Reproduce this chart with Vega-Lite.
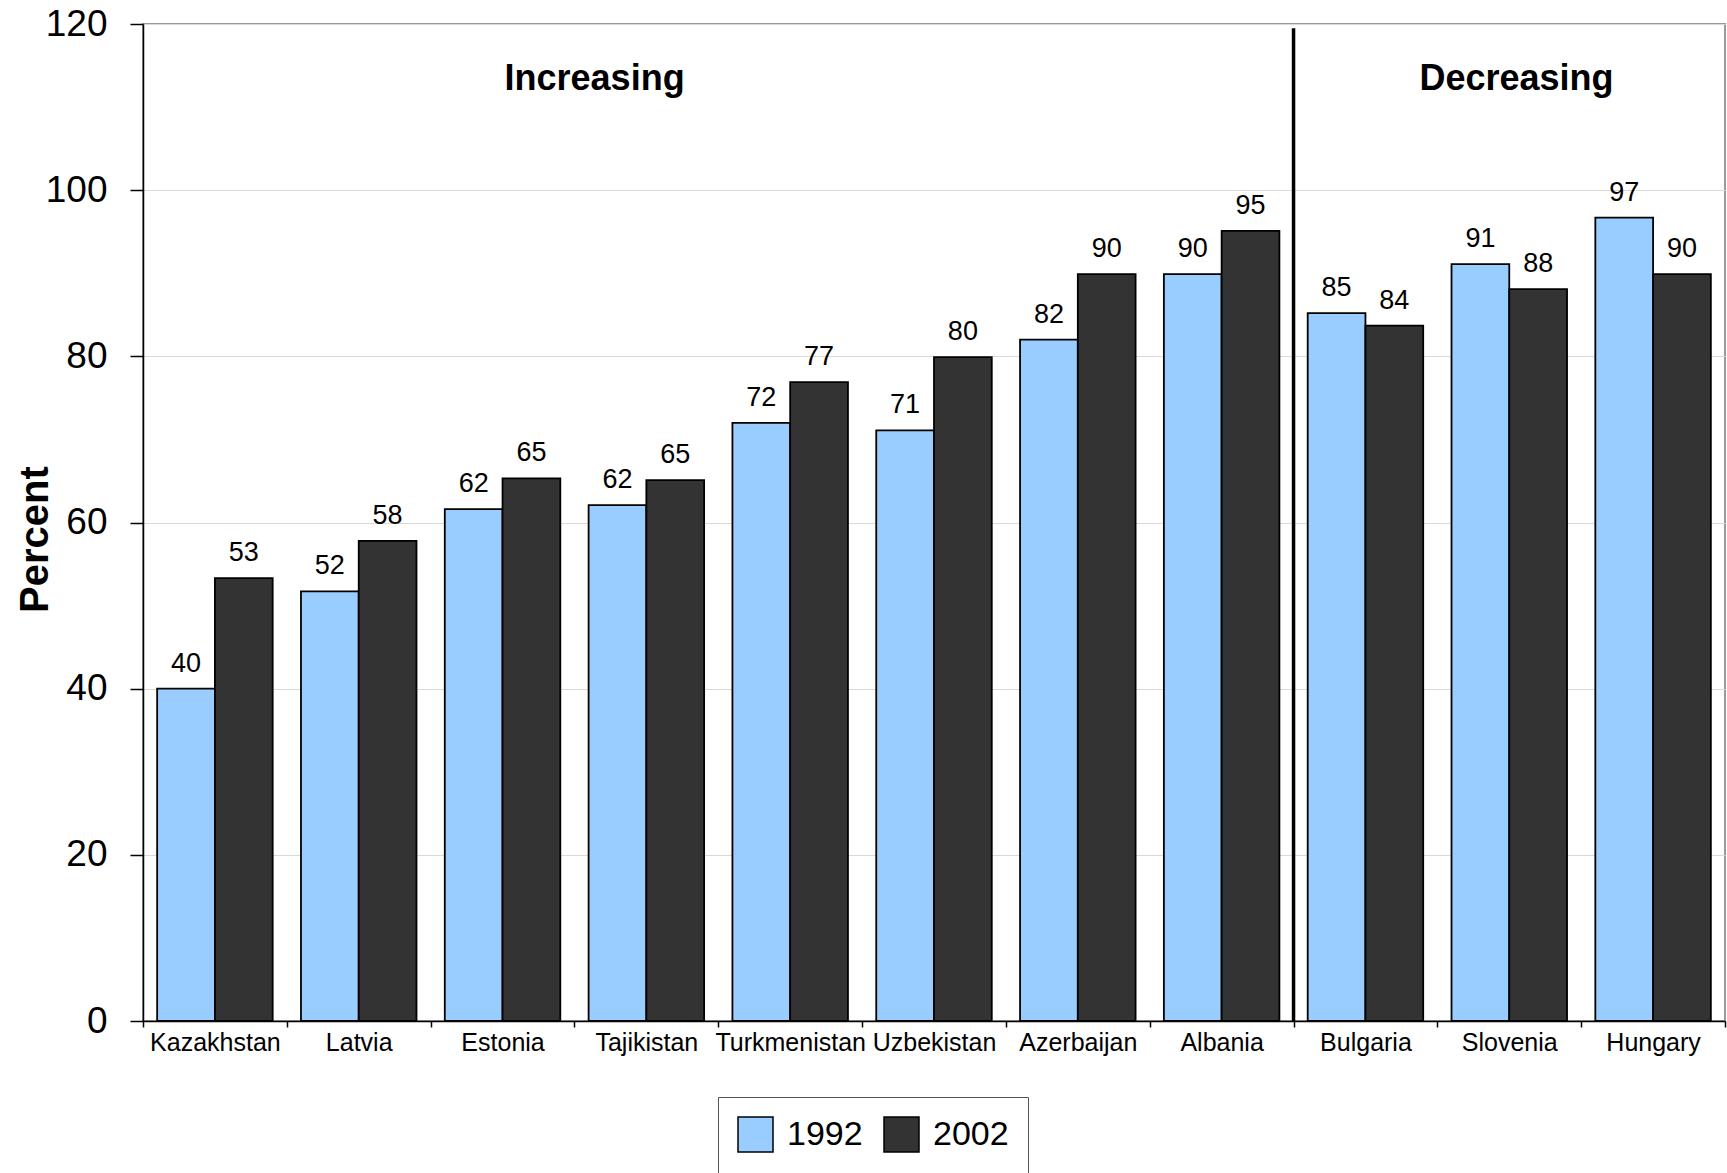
{
  "$schema": "https://vega.github.io/schema/vega-lite/v6.json",
  "autosize": {"type": "none"},
  "padding": {"left": 143, "top": 24, "right": 2, "bottom": 152},
  "width": 1582,
  "height": 997,
  "config": {
    "font": "Liberation Sans",
    "view": {"stroke": "#999999", "strokeWidth": 2},
    "legend": {"symbolStrokeColor": "#000000", "symbolStrokeWidth": 1.5}
  },
  "layer": [
    {
      "data": {"values": [
        {"country": "Kazakhstan", "year": "1992", "value": 40.0},
        {"country": "Kazakhstan", "year": "2002", "value": 53.3},
        {"country": "Latvia", "year": "1992", "value": 51.7},
        {"country": "Latvia", "year": "2002", "value": 57.8},
        {"country": "Estonia", "year": "1992", "value": 61.6},
        {"country": "Estonia", "year": "2002", "value": 65.3},
        {"country": "Tajikistan", "year": "1992", "value": 62.1},
        {"country": "Tajikistan", "year": "2002", "value": 65.1},
        {"country": "Turkmenistan", "year": "1992", "value": 72.0},
        {"country": "Turkmenistan", "year": "2002", "value": 76.9},
        {"country": "Uzbekistan", "year": "1992", "value": 71.1},
        {"country": "Uzbekistan", "year": "2002", "value": 79.9},
        {"country": "Azerbaijan", "year": "1992", "value": 82.0},
        {"country": "Azerbaijan", "year": "2002", "value": 89.9},
        {"country": "Albania", "year": "1992", "value": 89.9},
        {"country": "Albania", "year": "2002", "value": 95.1},
        {"country": "Bulgaria", "year": "1992", "value": 85.2},
        {"country": "Bulgaria", "year": "2002", "value": 83.7},
        {"country": "Slovenia", "year": "1992", "value": 91.1},
        {"country": "Slovenia", "year": "2002", "value": 88.1},
        {"country": "Hungary", "year": "1992", "value": 96.7},
        {"country": "Hungary", "year": "2002", "value": 89.9}
      ]},
      "layer": [
        {
          "mark": {"type": "bar", "stroke": "#000000", "strokeWidth": 1.8},
          "encoding": {
            "x": {
              "field": "country", "type": "nominal",
              "scale": {"domain": ["Kazakhstan", "Latvia", "Estonia", "Tajikistan", "Turkmenistan", "Uzbekistan", "Azerbaijan", "Albania", "Bulgaria", "Slovenia", "Hungary"], "paddingInner": 0, "paddingOuter": 0},
              "axis": {
                "title": null, "labelAngle": 0, "labelFontSize": 25, "labelColor": "#000000",
                "labelPadding": 3, "tickSize": 6, "tickBand": "extent", "tickColor": "#000000",
                "tickWidth": 1.5, "domainColor": "#000000", "domainWidth": 1.5, "labelOverlap": false,
                "labelLimit": 300
              }
            },
            "xOffset": {"field": "year", "type": "nominal", "scale": {"paddingInner": 0, "paddingOuter": 0.245}},
            "y": {
              "field": "value", "type": "quantitative", "title": "Percent",
              "scale": {"domain": [0, 120], "nice": false},
              "axis": {
                "values": [0, 20, 40, 60, 80, 100, 120],
                "labelFontSize": 37, "labelColor": "#000000", "labelPadding": 23,
                "tickSize": 13, "tickColor": "#000000", "tickWidth": 1.5,
                "domainColor": "#000000", "domainWidth": 1.5,
                "gridColor": "#D9D9D9", "gridWidth": 1,
                "titleFontSize": 40, "titleFontWeight": "bold", "titleColor": "#000000",
                "titleAngle": -90, "titleX": -96, "titleY": 515, "titleBaseline": "alphabetic", "titleAlign": "center"
              }
            },
            "color": {
              "field": "year", "type": "nominal",
              "scale": {"domain": ["1992", "2002"], "range": ["#99CCFF", "#333333"]},
              "legend": {
                "title": null, "orient": "none", "direction": "horizontal",
                "legendX": 575, "legendY": 1073,
                "strokeColor": "#555555", "padding": 19,
                "symbolType": "square", "symbolSize": 1225, "symbolOpacity": 1,
                "labelFontSize": 34, "labelColor": "#000000", "labelOffset": 13,
                "columnPadding": 18
              }
            }
          }
        },
        {
          "mark": {"type": "text", "fontSize": 27, "dy": -17, "baseline": "alphabetic", "align": "center", "color": "#000000"},
          "encoding": {
            "x": {"field": "country", "type": "nominal"},
            "xOffset": {"field": "year", "type": "nominal"},
            "y": {"field": "value", "type": "quantitative", "title": "Percent"},
            "text": {"field": "value", "type": "quantitative", "format": ".0f"}
          }
        }
      ]
    },
    {
      "data": {"values": [{"country": "Bulgaria", "lo": 0, "hi": 119.5}]},
      "mark": {"type": "rule", "stroke": "#000000", "strokeWidth": 3.5},
      "encoding": {
        "x": {"field": "country", "type": "nominal", "bandPosition": 0},
        "y": {"field": "lo", "type": "quantitative", "title": "Percent"},
        "y2": {"field": "hi"}
      }
    },
    {
      "data": {"values": [{"country": "Tajikistan", "ypos": 112, "label": "Increasing"}]},
      "mark": {"type": "text", "fontSize": 36, "fontWeight": "bold", "align": "center", "baseline": "alphabetic", "color": "#000000"},
      "encoding": {
        "x": {"field": "country", "type": "nominal", "bandPosition": 0.14},
        "y": {"field": "ypos", "type": "quantitative", "title": "Percent"},
        "text": {"field": "label"}
      }
    },
    {
      "data": {"values": [{"country": "Slovenia", "ypos": 112, "label": "Decreasing"}]},
      "mark": {"type": "text", "fontSize": 36, "fontWeight": "bold", "align": "center", "baseline": "alphabetic", "color": "#000000"},
      "encoding": {
        "x": {"field": "country", "type": "nominal", "bandPosition": 0.55},
        "y": {"field": "ypos", "type": "quantitative", "title": "Percent"},
        "text": {"field": "label"}
      }
    }
  ]
}
